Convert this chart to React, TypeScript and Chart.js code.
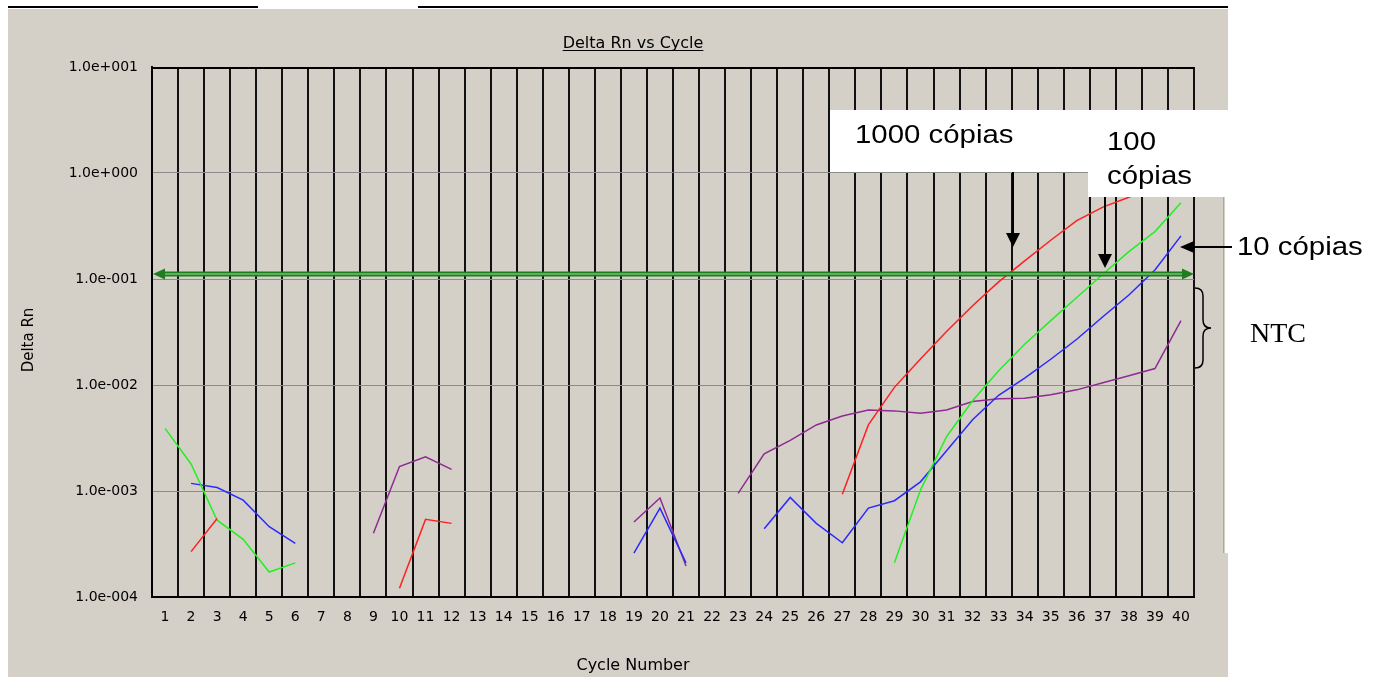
import React, { useEffect, useRef } from 'react';
import { Chart, registerables } from 'chart.js';

Chart.register(...registerables);

// ---------- data ----------
const cycleLabels = [
  '1', '2', '3', '4', '5', '6', '7', '8', '9', '10',
  '11', '12', '13', '14', '15', '16', '17', '18', '19', '20',
  '21', '22', '23', '24', '25', '26', '27', '28', '29', '30',
  '31', '32', '33', '34', '35', '36', '37', '38', '39', '40',
];

const yTickValues = [1e-4, 1e-3, 1e-2, 1e-1, 1, 10];

const N = null;

// 1000 cópias (red)
const red1000 = [
  N, 2.68e-4, 5.5e-4, N, N, N, N, N, N, 1.21e-4,
  5.4e-4, 4.95e-4, N, N, N, N, N, N, N, N,
  N, N, N, N, N, N, 9.3e-4, 4.2e-3, 9.5e-3, 0.0176,
  0.032, 0.056, 0.094, 0.148, 0.232, 0.355, 0.477, 0.59, 0.75, 0.92,
];

// 100 cópias (green)
const green100 = [
  3.9e-3, 1.8e-3, 5.3e-4, 3.5e-4, 1.72e-4, 2.1e-4, N, N, N, N,
  N, N, N, N, N, N, N, N, N, N,
  N, N, N, N, N, N, N, N, 2.1e-4, 1.02e-3,
  3.25e-3, 7.1e-3, 0.0136, 0.0242, 0.0405, 0.067, 0.111, 0.181, 0.28, 0.525,
];

// 10 cópias (blue)
const blue10 = [
  N, 1.18e-3, 1.08e-3, 8.2e-4, 4.6e-4, 3.2e-4, N, N, N, N,
  N, N, N, N, N, N, N, N, 2.6e-4, 6.9e-4,
  2.1e-4, N, N, 4.4e-4, 8.7e-4, 4.95e-4, 3.25e-4, 6.9e-4, 8.1e-4, 1.22e-3,
  2.4e-3, 4.7e-3, 8.0e-3, 0.0116, 0.0175, 0.027, 0.044, 0.0706, 0.1216, 0.255,
];

// NTC (purple)
const ntc = [
  N, N, N, N, N, N, N, N, 4.0e-4, 1.7e-3,
  2.1e-3, 1.6e-3, N, N, N, N, N, N, 5.1e-4, 8.6e-4,
  1.96e-4, N, 9.5e-4, 2.24e-3, 3.0e-3, 4.2e-3, 5.1e-3, 5.8e-3, 5.7e-3, 5.4e-3,
  5.8e-3, 7.0e-3, 7.4e-3, 7.5e-3, 8.1e-3, 9.0e-3, 0.0105, 0.0122, 0.0143, 0.0405,
];

const threshold = 0.1114;

// ---------- helpers ----------
function fmtExp(v: number): string {
  const e = Math.round(Math.log10(v));
  const sign = e >= 0 ? '+' : '-';
  const a = String(Math.abs(e)).padStart(3, '0');
  return '1.0e' + sign + a;
}

const SANS = '"DejaVu Sans", sans-serif';
const ARIAL = '"Liberation Sans", Arial, sans-serif';
const TIMES = '"Liberation Serif", "Times New Roman", serif';

function stretchedText(ctx: CanvasRenderingContext2D, text: string, x: number, y: number, font: string, sx: number) {
  ctx.save();
  ctx.font = font;
  ctx.fillStyle = '#000';
  ctx.textAlign = 'left';
  ctx.textBaseline = 'alphabetic';
  ctx.translate(x, y);
  ctx.scale(sx, 1);
  ctx.fillText(text, 0, 0);
  ctx.restore();
}

function arrowDown(ctx: CanvasRenderingContext2D, x: number, y0: number, tip: number) {
  ctx.save();
  ctx.strokeStyle = '#000';
  ctx.fillStyle = '#000';
  ctx.lineWidth = 2;
  ctx.beginPath();
  ctx.moveTo(x, y0);
  ctx.lineTo(x, tip - 12);
  ctx.stroke();
  ctx.beginPath();
  ctx.moveTo(x - 7, tip - 14);
  ctx.lineTo(x + 7, tip - 14);
  ctx.lineTo(x, tip);
  ctx.closePath();
  ctx.fill();
  ctx.restore();
}

const backgroundPlugin = {
  id: 'bgPanel',
  beforeDraw(chart: any) {
    const ctx: CanvasRenderingContext2D = chart.ctx;
    ctx.save();
    ctx.fillStyle = '#ffffff';
    ctx.fillRect(0, 0, chart.width, chart.height);
    ctx.fillStyle = '#d4d0c8';
    ctx.fillRect(8, 9, 1220, 668);
    ctx.fillStyle = '#000';
    ctx.fillRect(8, 6, 250, 2);
    ctx.fillRect(418, 6, 810, 2);
    // scrollbar edge
    ctx.fillStyle = '#ffffff';
    ctx.fillRect(1225, 197, 4, 356);
    ctx.fillStyle = '#a8a8a8';
    ctx.fillRect(1223, 197, 1, 356);
    ctx.restore();
  },
  beforeDatasetsDraw(chart: any) {
    const ctx: CanvasRenderingContext2D = chart.ctx;
    const a = chart.chartArea;
    ctx.save();
    ctx.strokeStyle = '#000';
    ctx.lineWidth = 2;
    ctx.beginPath();
    ctx.moveTo(a.left, a.top + 1);
    ctx.lineTo(a.right, a.top + 1);
    ctx.stroke();
    ctx.restore();
  },
};

const overlayPlugin = {
  id: 'overlay',
  afterDatasetsDraw(chart: any) {
    const ctx: CanvasRenderingContext2D = chart.ctx;
    const a = chart.chartArea;
    const y = chart.scales.y.getPixelForValue(threshold);
    ctx.save();
    // threshold line
    ctx.strokeStyle = '#1f7d1f';
    ctx.lineWidth = 5;
    ctx.beginPath();
    ctx.moveTo(a.left + 8, y);
    ctx.lineTo(a.right - 8, y);
    ctx.stroke();
    ctx.strokeStyle = '#6cc46c';
    ctx.lineWidth = 1.5;
    ctx.beginPath();
    ctx.moveTo(a.left + 8, y);
    ctx.lineTo(a.right - 8, y);
    ctx.stroke();
    ctx.fillStyle = '#1f7d1f';
    ctx.beginPath();
    ctx.moveTo(a.right, y);
    ctx.lineTo(a.right - 12, y - 5.5);
    ctx.lineTo(a.right - 12, y + 5.5);
    ctx.closePath();
    ctx.fill();
    ctx.beginPath();
    ctx.moveTo(a.left + 1, y);
    ctx.lineTo(a.left + 13, y - 5.5);
    ctx.lineTo(a.left + 13, y + 5.5);
    ctx.closePath();
    ctx.fill();
    ctx.restore();
  },
  afterDraw(chart: any) {
    const ctx: CanvasRenderingContext2D = chart.ctx;
    ctx.save();

    // title
    ctx.fillStyle = '#000';
    ctx.font = '16px ' + SANS;
    ctx.textAlign = 'center';
    ctx.textBaseline = 'alphabetic';
    const title = 'Delta Rn vs Cycle';
    ctx.fillText(title, 633, 48);
    const tw = ctx.measureText(title).width;
    ctx.fillRect(633 - tw / 2, 50, tw, 1);

    // x axis title
    ctx.fillText('Cycle Number', 633, 670);

    // y axis title
    ctx.save();
    ctx.font = '15px ' + SANS;
    ctx.translate(33, 340);
    ctx.rotate(-Math.PI / 2);
    ctx.textAlign = 'center';
    ctx.fillText('Delta Rn', 0, 0);
    ctx.restore();

    // annotation boxes
    ctx.fillStyle = '#ffffff';
    ctx.fillRect(830, 110, 258, 62);
    ctx.fillRect(1088, 110, 295, 87);

    const annFont = '26px ' + ARIAL;
    stretchedText(ctx, '1000 cópias', 855, 143, annFont, 1.13);
    stretchedText(ctx, '100', 1107, 150, annFont, 1.13);
    stretchedText(ctx, 'cópias', 1107, 184, annFont, 1.13);
    stretchedText(ctx, '10 cópias', 1237, 255, annFont, 1.13);
    stretchedText(ctx, 'NTC', 1250, 342, '28px ' + TIMES, 1.0);

    arrowDown(ctx, 1013, 172, 247);
    arrowDown(ctx, 1105, 197, 268);

    // left arrow for 10 cópias
    ctx.strokeStyle = '#000';
    ctx.fillStyle = '#000';
    ctx.lineWidth = 2;
    ctx.beginPath();
    ctx.moveTo(1232, 247);
    ctx.lineTo(1192, 247);
    ctx.stroke();
    ctx.beginPath();
    ctx.moveTo(1180, 247);
    ctx.lineTo(1194, 241);
    ctx.lineTo(1194, 253);
    ctx.closePath();
    ctx.fill();

    // brace for NTC
    ctx.lineWidth = 1.5;
    ctx.beginPath();
    ctx.moveTo(1195, 288);
    ctx.quadraticCurveTo(1203, 288, 1203, 296);
    ctx.lineTo(1203, 320);
    ctx.quadraticCurveTo(1203, 328, 1211, 328);
    ctx.quadraticCurveTo(1203, 328, 1203, 336);
    ctx.lineTo(1203, 360);
    ctx.quadraticCurveTo(1203, 368, 1195, 368);
    ctx.stroke();

    ctx.restore();
  },
};

export default function App() {
  const ref = useRef<HTMLCanvasElement>(null);

  useEffect(() => {
    document.body.style.margin = '0';
    const canvas = ref.current;
    if (!canvas) return;
    const tickFont = { family: SANS, size: 14 };
    const chart = new Chart(canvas, {
      type: 'line',
      data: {
        labels: cycleLabels,
        datasets: [
          { label: '1000 cópias', data: red1000, borderColor: '#ff2020', borderWidth: 1.5, pointRadius: 0, spanGaps: false },
          { label: '100 cópias', data: green100, borderColor: '#22f022', borderWidth: 1.5, pointRadius: 0, spanGaps: false },
          { label: '10 cópias', data: blue10, borderColor: '#2a2aff', borderWidth: 1.5, pointRadius: 0, spanGaps: false },
          { label: 'NTC', data: ntc, borderColor: '#8e2a92', borderWidth: 1.5, pointRadius: 0, spanGaps: false },
        ],
      },
      options: {
        responsive: false,
        animation: false,
        devicePixelRatio: 1,
        layout: { padding: { left: 0, top: 67, right: 189, bottom: 0 } },
        plugins: {
          legend: { display: false },
          tooltip: { enabled: false },
          title: { display: false },
        },
        scales: {
          x: {
            type: 'category',
            offset: true,
            grid: { offset: true, color: '#111', lineWidth: 2, drawTicks: false },
            border: { color: '#000', width: 2 },
            ticks: { font: tickFont, color: '#000', padding: 12, maxRotation: 0, autoSkip: false },
            afterFit: (s: any) => { s.height = 80; },
          },
          y: {
            type: 'logarithmic',
            min: 1e-4,
            max: 10,
            afterBuildTicks: (s: any) => { s.ticks = yTickValues.map((v) => ({ value: v })); },
            ticks: { font: tickFont, color: '#000', padding: 14, callback: (v: any) => fmtExp(Number(v)) },
            grid: { color: '#8c8c8c', lineWidth: 1, drawTicks: false },
            border: { color: '#000', width: 2 },
            afterFit: (s: any) => { s.width = 152; },
          },
        },
      },
      plugins: [backgroundPlugin, overlayPlugin],
    } as any);
    return () => chart.destroy();
  }, []);

  return <canvas ref={ref} width={1383} height={677} style={{ display: 'block' }} />;
}
